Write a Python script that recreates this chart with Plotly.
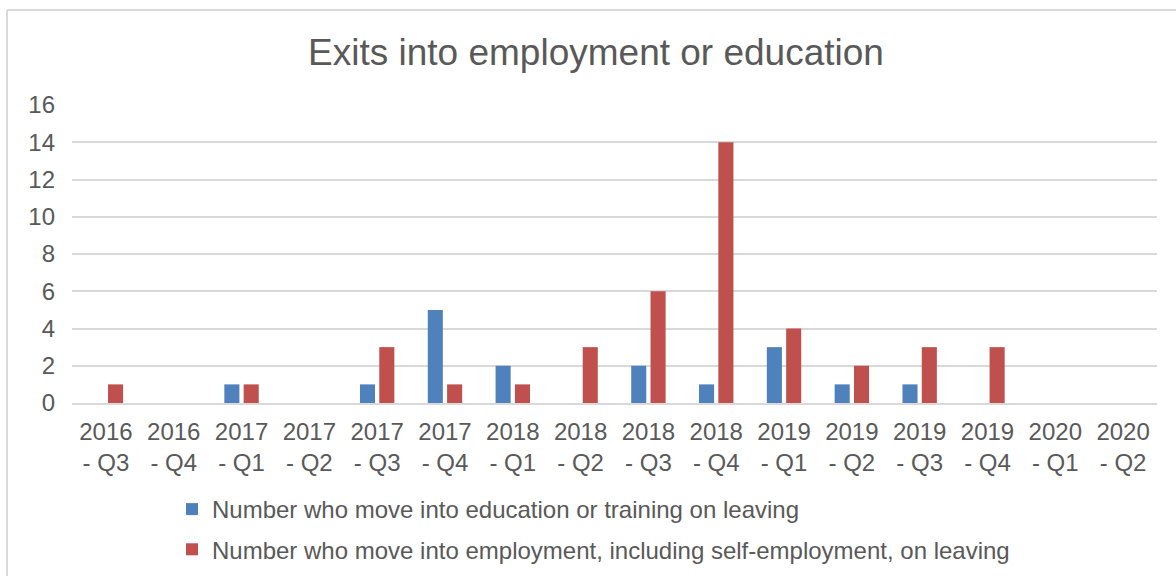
import plotly.graph_objects as go

categories = ["2016<br>- Q3", "2016<br>- Q4", "2017<br>- Q1", "2017<br>- Q2", "2017<br>- Q3", "2017<br>- Q4",
              "2018<br>- Q1", "2018<br>- Q2", "2018<br>- Q3", "2018<br>- Q4", "2019<br>- Q1", "2019<br>- Q2",
              "2019<br>- Q3", "2019<br>- Q4", "2020<br>- Q1", "2020<br>- Q2"]
education = [0, 0, 1, 0, 1, 5, 2, 0, 2, 1, 3, 1, 1, 0, 0, 0]
employment = [1, 0, 1, 0, 3, 1, 1, 3, 6, 14, 4, 2, 3, 3, 0, 0]
name_edu = "Number who move into education or training on leaving"
name_emp = "Number who move into employment, including self-employment, on leaving"
title_text = "Exits into employment or education"
y_ticks = [0, 2, 4, 6, 8, 10, 12, 14, 16]

FONT = "Liberation Sans, Arial, sans-serif"
GREY = "#595959"

fig = go.Figure()
fig.add_trace(go.Bar(x=categories, y=education, name=name_edu,
                     marker=dict(color="#4F81BD", line=dict(width=0)),
                     legendgroup="a"))
fig.add_trace(go.Bar(x=categories, y=employment, name=name_emp,
                     marker=dict(color="#C0504D", line=dict(width=0)),
                     legendgroup="b"))

W, H = 1176, 576
L, R, T, B = 72, 19, 105, 173

fig.update_layout(
    width=W, height=H,
    margin=dict(l=L, r=R, t=T, b=B, autoexpand=False),
    paper_bgcolor="white", plot_bgcolor="white",
    font=dict(family=FONT, color=GREY, size=24),
    barmode="group", bargap=0.43, bargroupgap=0.22,
    title=dict(text=title_text, x=596 / W, xanchor="center", xref="container",
               y=1 - 52 / H, yanchor="middle", yref="container",
               font=dict(size=37, color=GREY, family=FONT)),
    legend=dict(orientation="v", x=(172 - L) / (W - L - R), xanchor="left",
                y=(H - B - 487) / (H - T - B), yanchor="top",
                traceorder="grouped", tracegroupgap=6, itemwidth=30,
                font=dict(size=24, color=GREY, family=FONT),
                bgcolor="rgba(0,0,0,0)"),
    showlegend=True,
)
fig.update_xaxes(showgrid=False, showline=True, linecolor="#D9D9D9", linewidth=2,
                 ticks="", tickfont=dict(size=24, color=GREY), ticklabelstandoff=6,
                 tickangle=0)
fig.update_yaxes(range=[0, 16], tickvals=y_ticks, showgrid=True, gridcolor="#D9D9D9",
                 gridwidth=1.5, zeroline=False, showline=False, ticks="",
                 tickfont=dict(size=24, color=GREY), ticklabelstandoff=16)

# chart-area frame (partially visible, as in the cropped screenshot)
fig.add_shape(type="line", xref="paper", yref="paper",
              x0=(7 - L) / (W - L - R), x1=(W + 10 - L) / (W - L - R),
              y0=(H - B - 10) / (H - T - B), y1=(H - B - 10) / (H - T - B),
              line=dict(color="#D9D9D9", width=2))
fig.add_shape(type="line", xref="paper", yref="paper",
              x0=(7 - L) / (W - L - R), x1=(7 - L) / (W - L - R),
              y0=(H - B - 10) / (H - T - B), y1=(H - B - H - 10) / (H - T - B),
              line=dict(color="#D9D9D9", width=2))

fig.write_html("out.html")
